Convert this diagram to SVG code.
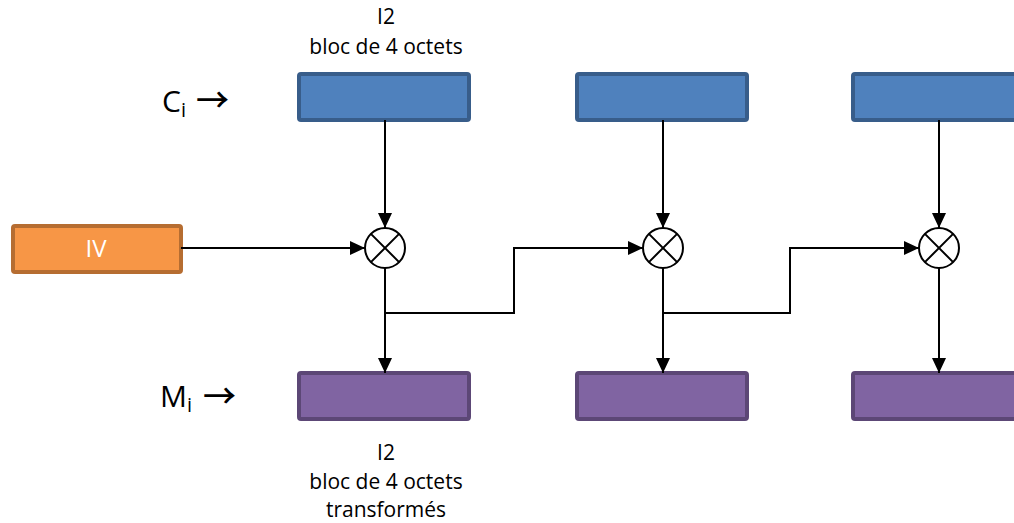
<svg xmlns="http://www.w3.org/2000/svg" width="1014" height="523" viewBox="0 0 1014 523">
<style>
.cbox{fill:#4f81bd;stroke:#385d8a;stroke-width:4}
.mbox{fill:#8064a2;stroke:#5c4776;stroke-width:4}
.ivbox{fill:#f79646;stroke:#b66d31;stroke-width:4}
.xor circle{fill:#fff;stroke:#000;stroke-width:2}
.xor path{stroke:#000;stroke-width:2;fill:none}
.conn path{stroke:#000;stroke-width:2;fill:none}
.lbl{font-family:"Open Sans","Liberation Sans",sans-serif;font-size:21px;fill:#000;text-anchor:middle}
.big{font-family:"Open Sans","Liberation Sans",sans-serif;font-size:30px;fill:#000}
.arr{font-family:"Noto Sans CJK SC","DejaVu Sans",sans-serif;font-size:33px;font-weight:500;fill:#000}
</style>
<defs>
<marker id="ah" markerUnits="userSpaceOnUse" markerWidth="15" markerHeight="14" refX="15" refY="7" orient="auto">
<path d="M0,0 L15,7 L0,14 z" fill="#000"/>
</marker>
</defs>
<g id="label-top">
<text class="lbl" x="386" y="24">I2</text>
<text class="lbl" x="386" y="54">bloc de 4 octets</text>
</g>
<g id="label-bottom">
<text class="lbl" x="386" y="460">I2</text>
<text class="lbl" x="386" y="489">bloc de 4 octets</text>
<text class="lbl" x="386" y="517">transformés</text>
</g>
<g id="label-ci">
<text class="big" x="162" y="112">C<tspan font-size="20" dy="5">i</tspan></text>
<text class="arr" x="196" y="112">→</text>
</g>
<g id="label-mi">
<text class="big" x="160" y="407">M<tspan font-size="20" dy="5">i</tspan></text>
<text class="arr" x="203" y="408">→</text>
</g>
<g id="c1"><rect class="cbox" x="299" y="74" width="170" height="46" rx="2"/></g>
<g id="c2"><rect class="cbox" x="577" y="74" width="170" height="46" rx="2"/></g>
<g id="c3"><rect class="cbox" x="853" y="74" width="170" height="46" rx="2"/></g>
<g id="m1"><rect class="mbox" x="299" y="373" width="170" height="46" rx="2"/></g>
<g id="m2"><rect class="mbox" x="577" y="373" width="170" height="46" rx="2"/></g>
<g id="m3"><rect class="mbox" x="853" y="373" width="170" height="46" rx="2"/></g>
<g id="iv">
<rect class="ivbox" x="13" y="226" width="168" height="46" rx="2"/>
<text x="96" y="257" font-family="Open Sans, Liberation Sans, sans-serif" font-size="24" fill="#fff" text-anchor="middle">IV</text>
</g>
<g id="connectors" class="conn">
<path d="M385,120 V228" marker-end="url(#ah)"/>
<path d="M663,120 V228" marker-end="url(#ah)"/>
<path d="M939,120 V228" marker-end="url(#ah)"/>
<path d="M181,248 H365" marker-end="url(#ah)"/>
<path d="M385,268 V373" marker-end="url(#ah)"/>
<path d="M663,268 V373" marker-end="url(#ah)"/>
<path d="M939,268 V373" marker-end="url(#ah)"/>
<path d="M385,313 H514 V248 H643" marker-end="url(#ah)"/>
<path d="M663,313 H790 V248 H919" marker-end="url(#ah)"/>
</g>
<g id="xor1" class="xor"><circle cx="385" cy="248" r="20"/><path d="M370.9,233.9 L399.1,262.1 M399.1,233.9 L370.9,262.1"/></g>
<g id="xor2" class="xor"><circle cx="663" cy="248" r="20"/><path d="M648.9,233.9 L677.1,262.1 M677.1,233.9 L648.9,262.1"/></g>
<g id="xor3" class="xor"><circle cx="939" cy="248" r="20"/><path d="M924.9,233.9 L953.1,262.1 M953.1,233.9 L924.9,262.1"/></g>
</svg>
